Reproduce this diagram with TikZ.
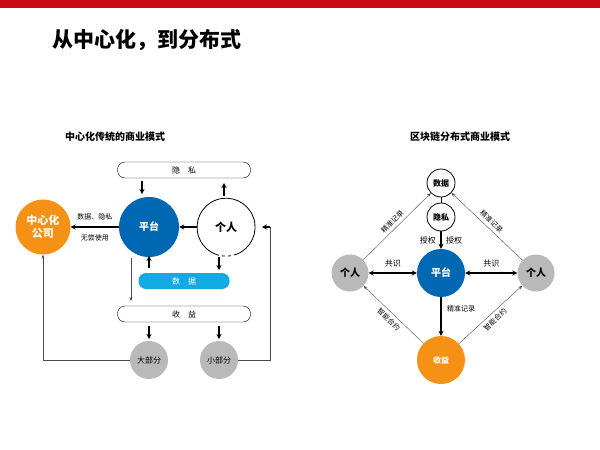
\documentclass[tikz,border=0pt]{standalone}
\usepackage{fontspec}
\setmainfont{Noto Sans CJK SC}
\usetikzlibrary{arrows.meta,positioning}
\definecolor{pblue}{RGB}{0,104,178}
\definecolor{lblue}{RGB}{20,170,225}
\definecolor{porange}{RGB}{245,145,20}
\definecolor{pgrey}{RGB}{185,185,185}
\definecolor{pred}{RGB}{200,10,20}
\tikzset{
  >={Stealth[length=5pt,width=5pt]},
  bigdot/.style={circle, inner sep=0pt, font=\fontsize{10}{10}\selectfont\bfseries},
  pill/.style={draw, rounded corners=7.5pt, minimum width=133pt, minimum height=16pt,
    font=\fontsize{8}{8}\selectfont, inner sep=0pt},
  thickarrow/.style={->, line width=1.6pt},
  thinarrow/.style={->, thin, draw=black!70, >={Stealth[length=4pt,width=3pt]}},
  lbl/.style={font=\fontsize{7}{7}\selectfont},
}
\begin{document}
\begin{tikzpicture}[x=1pt,y=-1pt]
    \useasboundingbox (0,0) rectangle (600,450);
    \fill[pred] (0,0) rectangle (600,8);
    \node[font=\fontsize{21}{21}\selectfont\bfseries] (title) at (147,40) {从中心化，到分布式};

    %centralised model
    \node[font=\fontsize{10}{10}\selectfont\bfseries] (ltitle) at (115,137) {中心化传统的商业模式};
    \node[pill] (privacy) at (184,170) {隐\quad 私};
    \node[bigdot, fill=porange, text=white, minimum size=55pt, align=center,
      font=\fontsize{11}{13}\selectfont\bfseries] (company) at (43,227) {中心化\\公司};
    \node[bigdot, fill=pblue, text=white, minimum size=60pt] (lplat) at (149,227) {平台};
    \node[bigdot, minimum size=58pt, font=\fontsize{11}{11}\selectfont\bfseries] (person) at (226,227) {个人};
    \draw[thick] (person.-70) arc (-70:250:29pt);
    \draw[thick, dashed] (person.250) arc (250:290:29pt);
    \node[pill, draw=none, fill=lblue, text=white, minimum width=91pt] (data) at (184,281) {数\quad 据};
    \node[pill] (income) at (184,314) {收\quad 益};
    \node[bigdot, fill=pgrey, minimum size=38pt, font=\fontsize{8}{8}\selectfont] (major) at (149,360) {大部分};
    \node[bigdot, fill=pgrey, minimum size=38pt, font=\fontsize{8}{8}\selectfont] (minor) at (219,360) {小部分};
    \coordinate (back) at (270,227);

    \draw[thickarrow] (142,181) -- (142,194);
    \draw[thickarrow] (224,196) -- (224,183);
    \draw[thickarrow] (person) -- (lplat);
    \draw[thickarrow] (lplat) -- (company) node[lbl, midway, above=3pt] {数据、隐私}
      node[lbl, midway, below=3pt] {无尝使用};
    \draw[thickarrow] (149,268) -- (149,256);
    \draw[thickarrow] (219,257) -- (219,270);
    \draw[thinarrow] (131,258) -- (131,301);
    \draw[thickarrow] (149,326) -- (149,339);
    \draw[thickarrow] (219,326) -- (219,339);
    \draw[thinarrow] (major) -| (company);
    \draw[thin, draw=black!70] (minor) -| (back);
    \draw[thickarrow] (back) -- (262,227);

    %distributed model
    \node[font=\fontsize{10}{10}\selectfont\bfseries] (rtitle) at (460,137) {区块链分布式商业模式};
    \node[bigdot, draw, thick, minimum size=28pt, font=\fontsize{8}{8}\selectfont\bfseries] (rdata) at (441,183) {数据};
    \node[bigdot, draw, thick, minimum size=28pt, font=\fontsize{8}{8}\selectfont\bfseries] (rpriv) at (441,217) {隐私};
    \node[bigdot, fill=pblue, text=white, minimum size=48pt] (rplat) at (441,273) {平台};
    \node[bigdot, fill=pgrey, minimum size=37pt] (lperson) at (350,273) {个人};
    \node[bigdot, fill=pgrey, minimum size=37pt] (rperson) at (536,273) {个人};
    \node[bigdot, fill=porange, text=white, minimum size=48pt, font=\fontsize{8}{8}\selectfont\bfseries] (rincome) at (441,360) {收益};

    \draw[thick] (rdata) -- (rpriv);
    \draw[thickarrow] (rpriv) -- (rplat) node[lbl, font=\fontsize{8}{8}\selectfont, midway, left=1pt] {授权}
      node[lbl, font=\fontsize{8}{8}\selectfont, midway, right=1pt] {授权};
    \draw[thickarrow, <->] (lperson) -- (rplat) node[lbl, font=\fontsize{8}{8}\selectfont, midway, above=2pt] {共识};
    \draw[thickarrow, <->] (rplat) -- (rperson) node[lbl, font=\fontsize{8}{8}\selectfont, midway, above=2pt] {共识};
    \draw[thickarrow] (rplat) -- (rincome) node[lbl, pos=0.3, right=2pt] {精准记录};
    \draw[thinarrow] (lperson) -- (rdata) node[lbl, midway, sloped, above] {精准记录};
    \draw[thinarrow] (rperson) -- (rdata) node[lbl, midway, sloped, above] {精准记录};
    \draw[thinarrow] (rincome) -- (lperson) node[lbl, midway, sloped, below] {智能合约};
    \draw[thinarrow] (rincome) -- (rperson) node[lbl, midway, sloped, below] {智能合约};
\end{tikzpicture}
\end{document}
